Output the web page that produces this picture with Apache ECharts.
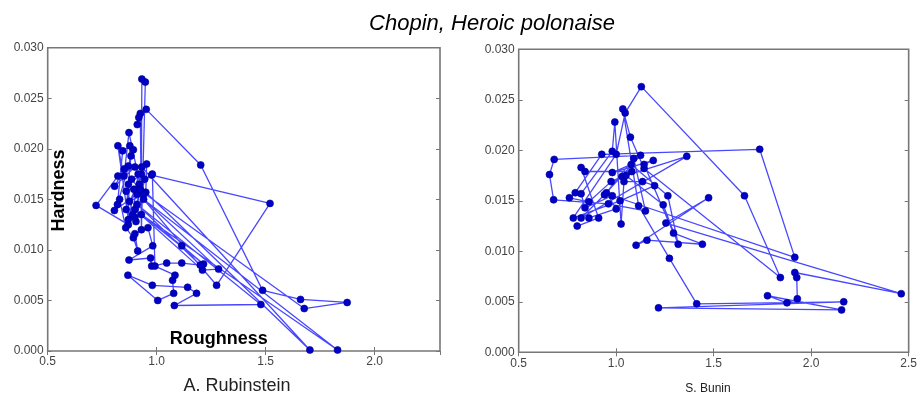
<!DOCTYPE html>
<html><head><meta charset="utf-8">
<script src="https://cdn.jsdelivr.net/npm/echarts@6/dist/echarts.min.js"></script>
<style>html,body{margin:0;padding:0;background:#fff}#c{width:920px;height:396px}</style>
</head><body><div id="c"></div>
<script>
// ---- Data ----
const rubinsteinRoughness = [0.87,0.93,0.932,0.948,0.93,0.925,0.918,0.911,0.952,1.202,1.486,1.66,1.874,1.677,0.93,0.873,0.85,0.822,0.87,0.877,0.844,0.82,0.893,0.882,0.86,0.954,0.95,1.703,0.931,0.87,0.851,0.807,0.90,0.822,0.722,0.87,0.895,0.977,1.52,1.275,0.94,1.284,1.21,0.90,1.215,1.115,0.93,1.83,0.91,0.806,0.83,0.858,0.893,0.913,0.90,0.96,0.982,0.873,0.972,0.977,1.046,1.115,1.20,0.91,1.478,1.081,1.183,1.142,0.98,0.868,1.005,1.078,1.073,1.084,0.992,0.98,0.92,0.86,0.905,0.945,0.89,0.915,0.885,0.94,0.875,0.925,0.90];
const rubinsteinHardness  = [0.0165,0.0175,0.0269,0.0266,0.0120,0.0235,0.0231,0.0224,0.0239,0.0184,0.0060,0.0051,0.0048,0.0042,0.0158,0.0216,0.0173,0.0203,0.0130,0.0203,0.0198,0.0145,0.0199,0.0193,0.0140,0.0185,0.0157,0.0001,0.0182,0.0183,0.0180,0.0163,0.0182,0.0173,0.0144,0.0125,0.0160,0.0174,0.0146,0.0065,0.0150,0.0081,0.0080,0.0140,0.0086,0.0104,0.0135,0.0001,0.0155,0.0139,0.0150,0.0122,0.0112,0.0099,0.0116,0.0122,0.0104,0.0090,0.0092,0.0084,0.0087,0.0087,0.0085,0.0145,0.0046,0.0045,0.0057,0.0063,0.0065,0.0075,0.0050,0.0057,0.0070,0.0075,0.0084,0.0175,0.0165,0.0158,0.0128,0.0170,0.0135,0.0175,0.0170,0.0155,0.0148,0.0160,0.0132];

const buninRoughness = [0.80,0.91,0.82,0.84,1.08,1.03,0.974,0.86,0.76,0.79,0.926,1.736,1.916,0.98,0.84,0.82,0.98,0.993,1.025,1.04,1.135,1.197,1.02,0.78,1.0,1.046,1.129,1.658,1.842,1.143,1.073,1.034,1.115,1.273,1.413,2.167,1.217,2.156,1.776,1.876,1.929,1.926,1.916,2.462,1.255,1.474,1.102,1.158,1.442,1.294,1.143,1.19,0.98,1.077,1.265,1.318,1.241,1.05,1.362,0.82,0.94,1.125,0.682,0.658,0.679,0.96,1.15,1.09,0.95,1.0,0.86];
const buninHardness  = [0.0125,0.0133,0.0183,0.0179,0.0179,0.0174,0.0169,0.0149,0.0153,0.0158,0.0196,0.0201,0.0094,0.0155,0.0143,0.0157,0.0199,0.0228,0.0127,0.0169,0.0169,0.0165,0.0150,0.0133,0.0196,0.0237,0.0263,0.0155,0.0074,0.0182,0.0213,0.0241,0.0145,0.0093,0.0048,0.0050,0.0044,0.0042,0.0056,0.0049,0.0053,0.0074,0.0079,0.0058,0.0128,0.0153,0.0106,0.0111,0.0107,0.0118,0.0186,0.0190,0.0178,0.0186,0.0155,0.0107,0.0146,0.0175,0.0194,0.0133,0.0156,0.0195,0.0191,0.0176,0.0151,0.0147,0.0140,0.0192,0.0158,0.0142,0.0133];

const titleText = 'Chopin, Heroic polonaise';
const leftPerformer = 'A. Rubinstein';
const rightPerformer = 'S. Bunin';
const xLabelText = 'Roughness';
const yLabelText = 'Hardness';

// ---- Chart ----
const zip = (a, b) => a.map((v, i) => [v, b[i]]);
const FONT = 'Liberation Sans';
const frameColor = '#777';

function xAx(grid, min, max, show) {
  return {
    type: 'value', gridIndex: grid, min: min, max: max, interval: 0.5,
    position: show ? 'bottom' : 'top',
    axisLine: { show: false },
    splitLine: { show: false },
    axisTick: { show: true, inside: true, length: 4, lineStyle: { color: frameColor, width: 1 } },
    axisLabel: {
      show: show, margin: 5, color: '#444', fontFamily: FONT, fontSize: 12,
      showMaxLabel: max === 2.5,
      formatter: v => (Math.abs(v * 2 - Math.round(v * 2)) < 1e-6 ? v.toFixed(1) : '')
    }
  };
}
function yAx(grid, show) {
  return {
    type: 'value', gridIndex: grid, min: 0, max: 0.03, interval: 0.005,
    position: show ? 'left' : 'right',
    axisLine: { show: false },
    splitLine: { show: false },
    axisTick: { show: true, inside: true, length: 4, lineStyle: { color: frameColor, width: 1 } },
    axisLabel: { show: show, margin: 4, color: '#444', fontFamily: FONT, fontSize: 12,
      formatter: v => v.toFixed(3) }
  };
}
function series(x, y, grid) {
  return {
    type: 'line', xAxisIndex: grid * 2, yAxisIndex: grid * 2,
    data: zip(x, y), showAllSymbol: true,
    symbol: 'circle', symbolSize: 7,
    itemStyle: { color: '#0000c8', borderColor: '#00008a', borderWidth: 0.6 },
    lineStyle: { color: 'rgba(0,0,255,0.72)', width: 1.3 },
    emphasis: { disabled: true }, animation: false, z: 3
  };
}

const chart = echarts.init(document.getElementById('c'), null, { renderer: 'canvas' });
chart.setOption({
  animation: false,
  backgroundColor: '#fff',
  grid: [
    { left: 47.7, top: 47.7, width: 392.3, height: 303.3, show: true, borderColor: frameColor, borderWidth: 1.6, backgroundColor: 'transparent' },
    { left: 518.7, top: 49.3, width: 392.3, height: 303, show: true, borderColor: frameColor, borderWidth: 1.6, backgroundColor: 'transparent' }
  ],
  xAxis: [xAx(0, 0.5, 2.3, true), xAx(0, 0.5, 2.3, false), xAx(1, 0.5, 2.5, true), xAx(1, 0.5, 2.5, false)],
  yAxis: [yAx(0, true), yAx(0, false), yAx(1, true), yAx(1, false)],
  series: [series(rubinsteinRoughness, rubinsteinHardness, 0), series(buninRoughness, buninHardness, 1)],
  graphic: [
    { type: 'text', x: 492, y: 24, style: { text: titleText, align: 'center', verticalAlign: 'middle', font: 'italic 22px "Liberation Sans"', fill: '#000' } },
    { type: 'text', x: 59.5, y: 190.5, rotation: Math.PI / 2, style: { text: yLabelText, align: 'center', verticalAlign: 'middle', font: 'bold 18px "Liberation Sans"', fill: '#000' }, z: 10 },
    { type: 'text', x: 218.7, y: 339, style: { text: xLabelText, align: 'center', verticalAlign: 'middle', font: 'bold 18px "Liberation Sans"', fill: '#000' }, z: 10 },
    { type: 'text', x: 237, y: 386, style: { text: leftPerformer, align: 'center', verticalAlign: 'middle', font: '18px "Liberation Sans"', fill: '#222' } },
    { type: 'text', x: 708, y: 389, style: { text: rightPerformer, align: 'center', verticalAlign: 'middle', font: '12px "Liberation Sans"', fill: '#222' } }
  ]
});
</script></body></html>
